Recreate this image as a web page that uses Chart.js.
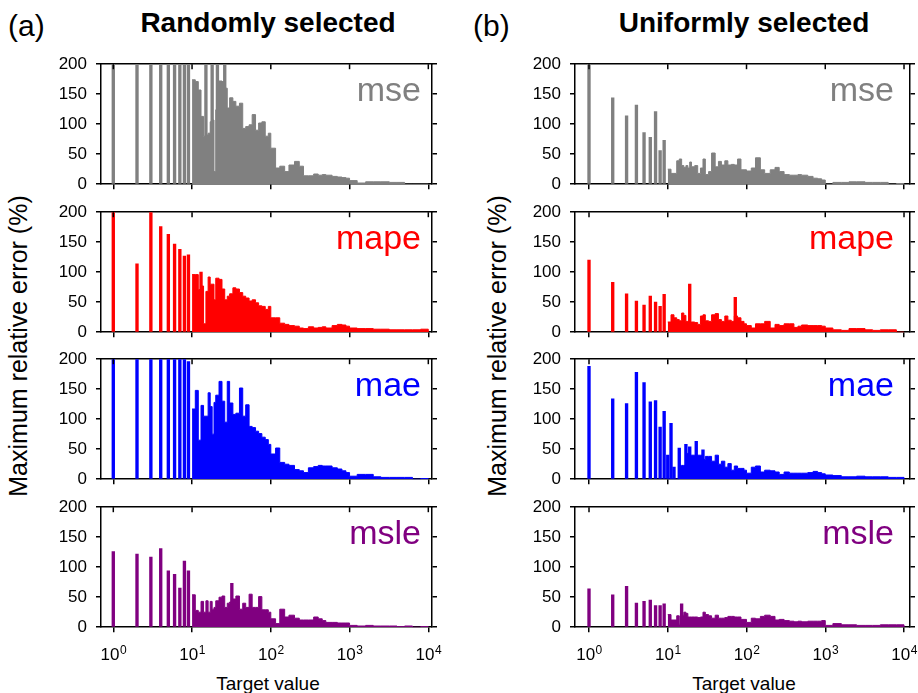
<!DOCTYPE html>
<html>
<head>
<meta charset="utf-8">
<script src="https://cdn.jsdelivr.net/npm/chart.js@4.4.1/dist/chart.umd.min.js"></script>
<style>
  body { margin: 0; background: #fff; }
  #page { position: relative; width: 918px; height: 693px; overflow: hidden; font-family: 'Liberation Sans', Arial, sans-serif; color: #000; }
  canvas { position: absolute; }
  .txt { position: absolute; white-space: nowrap; line-height: 1; }
  .tag { font-size: 30px; }
  .head { font-size: 28px; font-weight: bold; transform: translateX(-50%); }
  .xlab { font-size: 19px; transform: translateX(-50%); }
  .ylab { font-size: 25px; transform: translate(-50%, -50%) rotate(-90deg); }
</style>
</head>
<body>
<div id="page">
  <div class="txt tag" style="left:8px; top:11px">(a)</div>
  <div class="txt head" style="left:268px; top:9px">Randomly selected</div>
  <div class="txt tag" style="left:473px; top:11px">(b)</div>
  <div class="txt head" style="left:744px; top:9px">Uniformly selected</div>
  <div class="txt ylab" style="left:18px; top:346px">Maximum relative error (%)</div>
  <div class="txt ylab" style="left:497px; top:346px">Maximum relative error (%)</div>
  <div class="txt xlab" style="left:268px; top:674px">Target value</div>
  <div class="txt xlab" style="left:744px; top:674px">Target value</div>
</div>
<script>
Chart.defaults.font.family = "'Liberation Sans', Arial, sans-serif"

// left edges of the dense part (stepped fill), last entry closes it
const binX = [10, 11, 12, 13, 14, 15, 16, 17, 18, 19, 20, 22, 24, 26, 28, 30,
  33, 36, 40, 44, 48, 53, 58, 64, 70, 77, 85, 93,
  100, 115, 130, 150, 170, 200, 230, 260, 300, 350, 400, 450, 500, 600, 700, 800, 900,
  1000, 1250, 1600, 2000, 2500, 3200, 4000, 5000, 6300, 8000, 10000]
const decades = [1, 10, 100, 1000, 10000]
const decadeExp = ['0', '1', '2', '3', '4']
const metrics = ['mse', 'mape', 'mae', 'msle']
const colors = ['#808080', '#ff0000', '#0000ff', '#800080']

// (a) randomly selected
const randMseSpikes = [[1, 200], [2, 200], [3, 200], [4, 200], [5, 200], [6, 200], [7, 200], [8, 200], [9, 200], [15, 200], [18, 200], [21, 200], [26, 200]]
const randMse = [174, 171, 157, 113, 80, 82, 85, 104, 107, 21, 124, 172, 171, 160, 127, 144,
  138, 130, 135, 93, 96, 99, 116, 90, 102, 104, 80, 85,
  60, 27, 30, 21, 32, 38, 30, 14, 14, 17, 15, 16, 15, 13, 12, 11, 10,
  6, 2, 4, 4, 4, 3, 3, 0, 0, 0]
const randMapeSpikes = [[1, 200], [2, 114], [3, 200], [4, 176], [5, 163], [6, 147], [7, 138], [8, 127], [9, 129], [13, 100]]
const randMape = [96, 96, 71, 77, 14, 68, 92, 80, 80, 54, 90, 88, 72, 54, 60, 64,
  74, 72, 66, 60, 57, 52, 54, 49, 44, 43, 38, 43,
  24, 24, 15, 13, 11, 10, 7, 6, 9, 7, 8, 9, 7, 11, 13, 12, 10,
  7, 6, 6, 5, 5, 4, 4, 4, 4, 5]
const randMaeSpikes = [[1, 200], [2, 200], [3, 200], [4, 200], [5, 200], [6, 200], [7, 200], [8, 200], [9, 196]]
const randMae = [117, 148, 65, 123, 105, 105, 144, 121, 75, 128, 140, 163, 130, 95, 163, 127,
  108, 110, 152, 105, 124, 88, 86, 80, 76, 70, 66, 58,
  42, 52, 28, 25, 23, 16, 14, 11, 19, 21, 23, 22, 22, 19, 17, 14, 11,
  5, 8, 8, 4, 3, 3, 3, 3, 0, 1]
const randMsleSpikes = [[1, 126], [2, 122], [3, 117], [4, 131], [5, 94], [6, 88], [7, 65], [8, 110], [9, 94], [32, 73]]
const randMsle = [54, 28, 25, 43, 25, 44, 25, 43, 30, 33, 44, 50, 52, 33, 40, 42,
  47, 52, 30, 40, 33, 55, 33, 33, 51, 29, 29, 25,
  14, 6, 30, 17, 20, 15, 12, 12, 12, 17, 14, 11, 8, 8, 7, 7, 7,
  3, 2, 3, 2, 2, 2, 1, 2, 0, 1]

// (b) uniformly selected
const unifMseSpikes = [[1, 200], [2, 144], [3, 114], [4, 132], [5, 86], [6, 78], [7, 121], [8, 56], [9, 73]]
const unifMse = [25, 18, 18, 39, 42, 31, 28, 31, 27, 37, 29, 31, 18, 27, 42, 16,
  21, 52, 29, 38, 32, 39, 32, 33, 32, 42, 24, 24,
  22, 27, 44, 24, 18, 24, 28, 21, 16, 15, 15, 16, 15, 13, 10, 9, 7,
  0, 3, 3, 4, 4, 3, 3, 3, 0, 1]
const unifMapeSpikes = [[1, 120], [2, 83], [3, 64], [4, 52], [5, 45], [6, 60], [7, 50], [8, 43], [9, 63], [19, 80], [72, 58]]
const unifMape = [17, 29, 24, 21, 19, 32, 28, 18, 17, 17, 17, 16, 13, 27, 29, 19,
  18, 29, 31, 21, 18, 27, 20, 18, 27, 24, 18, 14,
  11, 7, 14, 14, 18, 7, 13, 11, 14, 14, 8, 10, 12, 11, 11, 11, 10,
  7, 4, 3, 6, 6, 4, 3, 4, 4, 0]
const unifMaeSpikes = [[1, 188], [2, 134], [3, 126], [4, 178], [5, 161], [6, 129], [7, 131], [8, 87], [9, 113],
  [10, 40], [11, 93], [12, 20], [14, 52], [17, 58], [19, 54], [23, 63], [28, 49]]
const unifMae = [0, 0, 0, 0, 23, 23, 23, 43, 43, 40, 40, 40, 40, 40, 33, 38,
  38, 30, 40, 25, 30, 20, 26, 15, 22, 18, 18, 15,
  10, 20, 22, 12, 15, 14, 12, 8, 12, 10, 10, 10, 10, 11, 13, 11, 9,
  7, 6, 4, 4, 5, 4, 4, 4, 3, 3]
const unifMsleSpikes = [[1, 64], [2, 54], [3, 68], [4, 40], [5, 43], [6, 45], [7, 36], [8, 36], [9, 39], [15, 39]]
const unifMsle = [21, 12, 12, 19, 5, 20, 25, 23, 17, 17, 17, 17, 16, 17, 25, 21,
  19, 15, 20, 15, 15, 16, 18, 18, 17, 17, 13, 13,
  8, 15, 14, 18, 20, 18, 12, 13, 11, 10, 9, 10, 9, 10, 10, 10, 11,
  3, 6, 4, 4, 3, 3, 3, 4, 4, 4]

const columns = [
  { left: 101, right: 432, xMin: 0.698, xMax: 11140,
    dense: [randMse, randMape, randMae, randMsle],
    spikes: [randMseSpikes, randMapeSpikes, randMaeSpikes, randMsleSpikes], inset: 11 },
  { left: 575, right: 910, xMin: 0.664, xMax: 11910,
    dense: [unifMse, unifMape, unifMae, unifMsle],
    spikes: [unifMseSpikes, unifMapeSpikes, unifMaeSpikes, unifMsleSpikes], inset: 16 }
]
const panelTops = [64, 212, 359, 507]
const panelHeight = 120

// inward ticks on the top edge, the metric name, and 10^n labels under the bottom panel
const decor = {
  id: 'decor',
  afterDraw(chart, args, opts) {
    const { ctx, chartArea: a } = chart
    const x = chart.scales.x
    ctx.save()
    ctx.strokeStyle = '#000'
    ctx.lineWidth = 1.5
    decades.forEach((v) => {
      const px = x.getPixelForValue(v)
      ctx.beginPath()
      ctx.moveTo(px, a.top)
      ctx.lineTo(px, a.top + 5)
      ctx.stroke()
    })
    ctx.fillStyle = opts.color
    ctx.font = "34px 'Liberation Sans', Arial, sans-serif"
    ctx.textAlign = 'right'
    ctx.textBaseline = 'alphabetic'
    ctx.fillText(opts.name, a.right - opts.inset, a.top + 37)

    if (opts.labels) {
      ctx.fillStyle = '#000'
      ctx.textAlign = 'left'
      decades.forEach((v, k) => {
        const px = x.getPixelForValue(v)
        ctx.font = "17px 'Liberation Sans', Arial, sans-serif"
        const wBase = ctx.measureText('10').width
        ctx.font = "12px 'Liberation Sans', Arial, sans-serif"
        const wExp = ctx.measureText(decadeExp[k]).width
        const x0 = px - (wBase + wExp) / 2
        const base = a.bottom + 33
        ctx.font = "17px 'Liberation Sans', Arial, sans-serif"
        ctx.fillText('10', x0, base)
        ctx.font = "12px 'Liberation Sans', Arial, sans-serif"
        ctx.fillText(decadeExp[k], x0 + wBase + 0.5, base - 6)
      })
    }
    ctx.restore()
  }
}

const page = document.getElementById('page')
const axisLine = { color: '#000', width: 1.5 }
const tickFont = { size: 17 }

columns.forEach((col) => {
  metrics.forEach((name, i) => {
    const isBottom = i === metrics.length - 1
    const bottomRoom = isBottom ? 42 : 8
    const plotWidth = col.right - col.left
    const canvas = document.createElement('canvas')
    canvas.width = plotWidth + 60
    canvas.height = panelHeight + 30 + bottomRoom
    page.appendChild(canvas)

    const color = colors[i]
    const dense = col.dense[i]
    const chart = new Chart(canvas, {
      type: 'line',
      data: {
        datasets: [
          {
            type: 'line',
            data: binX.map((x, k) => ({ x, y: dense[k] ?? 0 })),
            stepped: true,
            fill: 'origin',
            backgroundColor: color,
            borderColor: color,
            borderWidth: 1,
            pointRadius: 0,
            order: 2
          },
          {
            type: 'bar',
            data: col.spikes[i].map(([x, y]) => ({ x, y })),
            backgroundColor: color,
            barThickness: 2.7,
            grouped: false,
            order: 1
          }
        ]
      },
      options: {
        responsive: false,
        maintainAspectRatio: false,
        animation: false,
        events: [],
        layout: { padding: 0 },
        plugins: {
          legend: { display: false },
          tooltip: { enabled: false },
          decor: { name, color, inset: col.inset, labels: isBottom }
        },
        scales: {
          x: {
            type: 'logarithmic',
            position: 'bottom',
            min: col.xMin,
            max: col.xMax,
            offset: false,
            afterBuildTicks: (axis) => { axis.ticks = decades.map((value) => ({ value })) },
            afterFit: (axis) => { axis.height = bottomRoom },
            ticks: { display: false },
            grid: { drawOnChartArea: false, offset: false, tickLength: 5, color: '#000', lineWidth: 1.5 },
            border: axisLine
          },
          x2: {
            type: 'linear',
            position: 'top',
            min: 0,
            max: 1,
            afterFit: (axis) => { axis.height = 0 },
            ticks: { display: false },
            grid: { display: false },
            border: axisLine
          },
          y: {
            min: 0,
            max: 200,
            afterFit: (axis) => { axis.width = 50 },
            ticks: { stepSize: 50, padding: 9, color: '#000', font: tickFont },
            grid: { drawOnChartArea: false, tickLength: 5, color: '#000', lineWidth: 1.5 },
            border: axisLine
          },
          y2: {
            position: 'right',
            min: 0,
            max: 200,
            afterFit: (axis) => { axis.width = 10 },
            ticks: { stepSize: 50, display: false },
            grid: { drawOnChartArea: false, tickLength: 5, color: '#000', lineWidth: 1.5 },
            border: axisLine
          }
        }
      },
      plugins: [decor]
    })

    // fit the canvas so the plot area lands exactly on the panel box
    const area = chart.chartArea
    const offLeft = area.left
    const offTop = area.top
    const offRight = canvas.width - area.right
    const offBottom = canvas.height - area.bottom
    chart.resize(plotWidth + offLeft + offRight, panelHeight + offTop + offBottom)
    canvas.style.left = (col.left - offLeft) + 'px'
    canvas.style.top = (panelTops[i] - offTop) + 'px'
  })
})
</script>
</body>
</html>
